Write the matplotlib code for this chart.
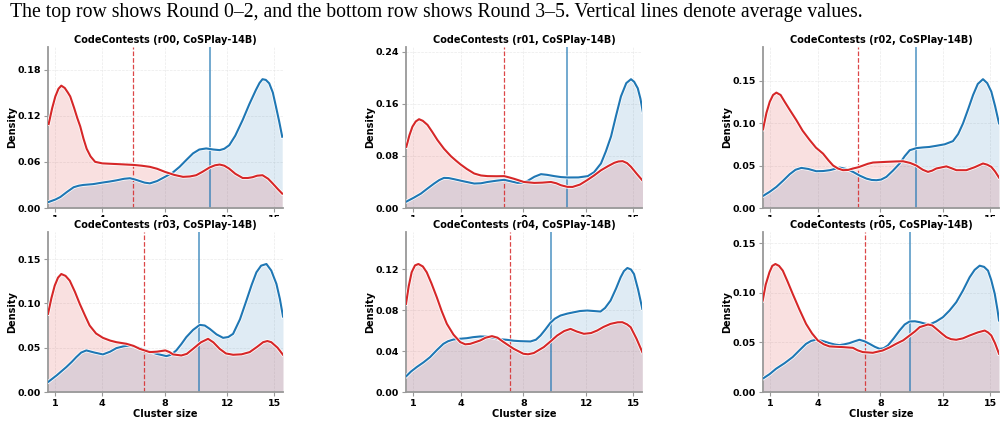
import matplotlib
matplotlib.use("Agg")
import matplotlib.pyplot as plt
import matplotlib.patheffects as pe
from matplotlib.transforms import Bbox, TransformedBbox

# Curve values (cluster size -> density)
r00_red_x = [0.57, 0.8, 1.0, 1.2, 1.38, 1.6, 1.8, 1.95, 2.2, 2.4, 2.59, 2.8, 3.0, 3.25, 3.54, 4.0, 5.0, 5.98, 6.5, 7.04, 7.5, 8.0, 8.6, 9.16, 9.6, 10.0, 10.4, 10.85, 11.2, 11.5, 11.8, 12.1, 12.5, 12.97, 13.3, 13.6, 13.9, 14.24, 14.6, 14.9, 15.2, 15.5]
r00_red_y = [0.109, 0.130, 0.145, 0.155, 0.159, 0.156, 0.150, 0.145, 0.130, 0.117, 0.106, 0.090, 0.077, 0.067, 0.060, 0.058, 0.057, 0.056, 0.055, 0.0535, 0.051, 0.047, 0.043, 0.0405, 0.041, 0.0426, 0.047, 0.0526, 0.0555, 0.0565, 0.055, 0.0513, 0.0445, 0.039, 0.039, 0.040, 0.042, 0.0426, 0.038, 0.0317, 0.025, 0.0187]
r00_blue_x = [0.57, 1.0, 1.32, 1.75, 2.17, 2.5, 2.8, 3.4, 4.0, 4.5, 4.92, 5.4, 5.77, 6.1, 6.4, 6.7, 7.04, 7.5, 8.0, 8.5, 8.94, 9.4, 9.8, 10.2, 10.64, 11.1, 11.5, 11.8, 12.12, 12.5, 12.97, 13.4, 13.82, 14.05, 14.24, 14.45, 14.67, 14.9, 15.1, 15.3, 15.5]
r00_blue_y = [0.0078, 0.011, 0.0143, 0.021, 0.027, 0.029, 0.030, 0.031, 0.033, 0.0345, 0.036, 0.038, 0.0387, 0.037, 0.035, 0.033, 0.032, 0.035, 0.0404, 0.046, 0.0535, 0.063, 0.071, 0.076, 0.0774, 0.076, 0.0752, 0.077, 0.0817, 0.094, 0.1143, 0.135, 0.1535, 0.1625, 0.1674, 0.1665, 0.162, 0.150, 0.1317, 0.113, 0.0926]

r01_red_x = [0.55, 0.75, 0.94, 1.15, 1.36, 1.6, 1.9, 2.2, 2.53, 2.95, 3.38, 3.7, 4.0, 4.4, 4.87, 5.3, 5.72, 6.3, 6.78, 7.1, 7.42, 8.03, 8.69, 9.2, 9.75, 10.1, 10.39, 10.8, 11.13, 11.6, 12.05, 12.5, 12.94, 13.4, 13.79, 14.05, 14.32, 14.6, 14.85, 15.2, 15.6]
r01_red_y = [0.094, 0.112, 0.125, 0.133, 0.1365, 0.134, 0.1277, 0.117, 0.1045, 0.091, 0.0798, 0.073, 0.067, 0.060, 0.053, 0.050, 0.049, 0.0488, 0.049, 0.047, 0.0448, 0.040, 0.0386, 0.039, 0.040, 0.038, 0.035, 0.0325, 0.0324, 0.036, 0.0427, 0.050, 0.058, 0.0645, 0.0695, 0.0715, 0.072, 0.069, 0.0633, 0.053, 0.0417]
r01_blue_x = [0.55, 1.0, 1.47, 1.9, 2.32, 2.65, 2.95, 3.25, 3.59, 4.2, 4.87, 5.3, 5.72, 6.3, 6.78, 7.2, 7.63, 7.95, 8.27, 8.7, 9.12, 9.5, 9.97, 10.4, 10.82, 11.5, 12.1, 12.5, 12.94, 13.25, 13.58, 13.9, 14.21, 14.55, 14.85, 15.05, 15.28, 15.45, 15.6]
r01_blue_y = [0.0098, 0.0155, 0.022, 0.030, 0.0376, 0.043, 0.0463, 0.046, 0.0443, 0.041, 0.0376, 0.038, 0.040, 0.042, 0.0433, 0.041, 0.0386, 0.039, 0.0417, 0.048, 0.052, 0.051, 0.049, 0.0475, 0.0469, 0.047, 0.049, 0.055, 0.0685, 0.087, 0.110, 0.142, 0.1715, 0.192, 0.198, 0.194, 0.184, 0.168, 0.148]

r02_red_x = [0.53, 0.75, 0.96, 1.17, 1.38, 1.65, 1.91, 2.25, 2.65, 3.05, 3.5, 3.9, 4.35, 4.7, 4.99, 5.3, 5.62, 5.95, 6.26, 6.6, 6.9, 7.2, 7.53, 8.38, 9.0, 9.44, 9.9, 10.29, 10.7, 11.03, 11.3, 11.56, 12.2, 12.5, 12.84, 13.47, 14.0, 14.53, 14.8, 15.06, 15.3, 15.55]
r02_red_y = [0.0925, 0.112, 0.125, 0.133, 0.1358, 0.133, 0.125, 0.115, 0.1035, 0.091, 0.080, 0.071, 0.064, 0.056, 0.050, 0.0465, 0.0445, 0.0448, 0.0465, 0.048, 0.050, 0.052, 0.0535, 0.0543, 0.0548, 0.055, 0.053, 0.050, 0.045, 0.0425, 0.044, 0.0465, 0.049, 0.047, 0.0445, 0.0445, 0.048, 0.0524, 0.051, 0.0484, 0.043, 0.0358]
r02_blue_x = [0.53, 0.95, 1.38, 1.8, 2.23, 2.6, 2.97, 3.4, 3.92, 4.35, 4.78, 5.1, 5.41, 5.8, 6.26, 6.7, 7.11, 7.45, 7.75, 8.05, 8.38, 8.8, 9.23, 9.55, 9.87, 10.3, 10.72, 11.1, 11.56, 12.1, 12.62, 12.95, 13.26, 13.6, 13.9, 14.2, 14.53, 14.8, 15.06, 15.3, 15.55]
r02_blue_y = [0.0142, 0.019, 0.0248, 0.032, 0.0398, 0.045, 0.0472, 0.046, 0.0433, 0.0435, 0.0445, 0.046, 0.0476, 0.046, 0.0425, 0.038, 0.0346, 0.033, 0.0327, 0.0335, 0.0366, 0.044, 0.0524, 0.061, 0.068, 0.0705, 0.0713, 0.0718, 0.0732, 0.075, 0.0787, 0.087, 0.0996, 0.117, 0.133, 0.146, 0.1516, 0.147, 0.137, 0.120, 0.0996]

r03_red_x = [0.53, 0.75, 0.96, 1.17, 1.38, 1.65, 1.92, 2.25, 2.56, 2.9, 3.19, 3.6, 4.04, 4.5, 4.9, 5.54, 6.0, 6.39, 7.03, 7.5, 8.03, 8.3, 8.52, 9.05, 9.4, 9.8, 10.3, 10.76, 11.1, 11.5, 11.9, 12.36, 12.9, 13.42, 13.9, 14.28, 14.55, 14.8, 15.2, 15.55]
r03_red_y = [0.0881, 0.106, 0.120, 0.129, 0.1331, 0.131, 0.1256, 0.113, 0.0994, 0.086, 0.075, 0.066, 0.0611, 0.058, 0.0562, 0.0544, 0.052, 0.0487, 0.045, 0.0455, 0.0469, 0.045, 0.0424, 0.0412, 0.043, 0.0487, 0.056, 0.060, 0.056, 0.0487, 0.0435, 0.042, 0.0425, 0.045, 0.051, 0.0562, 0.0575, 0.0562, 0.050, 0.042]
r03_blue_x = [0.53, 1.1, 1.7, 2.05, 2.34, 2.65, 2.98, 3.5, 4.04, 4.5, 4.9, 5.35, 5.75, 6.3, 6.81, 7.45, 8.1, 8.4, 8.73, 9.05, 9.37, 9.8, 10.23, 10.55, 10.87, 11.3, 11.72, 12.05, 12.36, 12.8, 13.21, 13.55, 13.85, 14.15, 14.49, 14.8, 15.13, 15.35, 15.55]
r03_blue_y = [0.0112, 0.019, 0.0281, 0.034, 0.0394, 0.0445, 0.0469, 0.0445, 0.0424, 0.0455, 0.0495, 0.0515, 0.0525, 0.050, 0.0469, 0.0431, 0.0405, 0.042, 0.0469, 0.054, 0.0619, 0.070, 0.0757, 0.075, 0.0712, 0.065, 0.0611, 0.062, 0.0656, 0.082, 0.1031, 0.121, 0.135, 0.1425, 0.1444, 0.137, 0.1219, 0.105, 0.0851]

r04_red_x = [0.53, 0.7, 0.89, 1.1, 1.32, 1.6, 1.85, 2.15, 2.49, 2.8, 3.13, 3.55, 3.98, 4.3, 4.62, 5.26, 5.6, 6.0, 6.35, 6.74, 7.38, 8.0, 8.3, 8.66, 9.3, 9.7, 10.15, 10.6, 11.0, 11.4, 11.85, 12.3, 12.7, 13.1, 13.55, 14.0, 14.3, 14.6, 14.83, 15.2, 15.57]
r04_red_y = [0.086, 0.103, 0.1168, 0.1235, 0.1249, 0.1225, 0.1168, 0.106, 0.0924, 0.079, 0.0665, 0.056, 0.0487, 0.0465, 0.047, 0.0503, 0.053, 0.0545, 0.053, 0.0487, 0.0422, 0.0373, 0.0368, 0.038, 0.0438, 0.049, 0.0551, 0.0595, 0.0616, 0.059, 0.0568, 0.0575, 0.060, 0.0635, 0.0665, 0.068, 0.0681, 0.066, 0.0632, 0.052, 0.0389]
r04_blue_x = [0.53, 0.85, 1.21, 1.65, 2.06, 2.5, 2.91, 3.2, 3.55, 4.0, 4.4, 4.8, 5.26, 5.7, 6.11, 6.5, 6.96, 7.4, 7.81, 8.45, 8.8, 9.09, 9.4, 9.72, 10.0, 10.36, 10.8, 11.21, 11.6, 12.06, 12.5, 12.91, 13.2, 13.55, 13.9, 14.19, 14.4, 14.62, 14.85, 15.04, 15.3, 15.57]
r04_blue_y = [0.0152, 0.020, 0.0243, 0.029, 0.034, 0.041, 0.047, 0.0495, 0.0512, 0.052, 0.0525, 0.0535, 0.0542, 0.054, 0.0529, 0.0515, 0.0509, 0.050, 0.0496, 0.0493, 0.051, 0.0551, 0.061, 0.0675, 0.0715, 0.0746, 0.0765, 0.0778, 0.079, 0.0795, 0.079, 0.0785, 0.082, 0.0892, 0.101, 0.1119, 0.118, 0.121, 0.1195, 0.1151, 0.100, 0.0811]

r05_red_x = [0.51, 0.7, 0.94, 1.12, 1.32, 1.55, 1.79, 2.1, 2.42, 2.85, 3.27, 3.65, 4.02, 4.4, 4.76, 5.61, 6.25, 6.55, 6.88, 7.52, 8.15, 8.6, 9.0, 9.45, 9.86, 10.2, 10.5, 11.03, 11.3, 11.56, 11.9, 12.2, 12.5, 12.83, 13.25, 13.68, 14.2, 14.64, 14.85, 15.06, 15.3, 15.55]
r05_red_y = [0.092, 0.108, 0.1205, 0.127, 0.1289, 0.127, 0.1222, 0.111, 0.0988, 0.083, 0.0686, 0.059, 0.0519, 0.048, 0.0459, 0.0452, 0.0445, 0.042, 0.0402, 0.0395, 0.0418, 0.045, 0.0485, 0.052, 0.0569, 0.061, 0.0653, 0.068, 0.067, 0.0636, 0.059, 0.0552, 0.0532, 0.0526, 0.054, 0.0569, 0.060, 0.0619, 0.060, 0.0569, 0.049, 0.0385]
r05_blue_x = [0.51, 0.95, 1.36, 1.9, 2.42, 2.85, 3.27, 3.6, 3.91, 4.3, 4.76, 5.1, 5.4, 5.7, 6.03, 6.35, 6.67, 7.0, 7.31, 7.65, 7.95, 8.2, 8.48, 8.85, 9.22, 9.55, 9.86, 10.2, 10.5, 10.8, 11.13, 11.55, 11.98, 12.4, 12.83, 13.25, 13.68, 14.0, 14.32, 14.6, 14.85, 15.05, 15.28, 15.45, 15.55]
r05_blue_y = [0.0134, 0.018, 0.0234, 0.029, 0.0352, 0.042, 0.0485, 0.0515, 0.0526, 0.0515, 0.0492, 0.0478, 0.0472, 0.048, 0.0492, 0.051, 0.0526, 0.051, 0.0485, 0.0455, 0.0435, 0.044, 0.0469, 0.054, 0.0619, 0.068, 0.071, 0.0712, 0.0703, 0.069, 0.068, 0.071, 0.0753, 0.082, 0.0904, 0.102, 0.1155, 0.123, 0.1272, 0.126, 0.1222, 0.113, 0.0988, 0.083, 0.072]

# averages (vertical lines)
red_means = [5.98, 6.78, 6.6, 6.67, 7.17, 7.05]
blue_means = [10.9, 10.77, 10.25, 10.18, 9.79, 9.9]

rounds = ["r00", "r01", "r02", "r03", "r04", "r05"]
y_ticks = [
    [0.0, 0.06, 0.12, 0.18],
    [0.0, 0.08, 0.16, 0.24],
    [0.0, 0.05, 0.10, 0.15],
    [0.0, 0.05, 0.10, 0.15],
    [0.0, 0.04, 0.08, 0.12],
    [0.0, 0.05, 0.10, 0.15],
]
x_ticks = [1, 4, 8, 12, 15]

red_curves = [(r00_red_x, r00_red_y), (r01_red_x, r01_red_y), (r02_red_x, r02_red_y),
              (r03_red_x, r03_red_y), (r04_red_x, r04_red_y), (r05_red_x, r05_red_y)]
blue_curves = [(r00_blue_x, r00_blue_y), (r01_blue_x, r01_blue_y), (r02_blue_x, r02_blue_y),
               (r03_blue_x, r03_blue_y), (r04_blue_x, r04_blue_y), (r05_blue_x, r05_blue_y)]

RED = "#d62728"
BLUE = "#1f77b4"
W, H = 1006, 423

fig = plt.figure(figsize=(W / 100, H / 100), dpi=100)

fig.text(10 / W, 1 - 12 / H,
         "The top row shows Round 0\u20132, and the bottom row shows Round 3\u20135. Vertical lines denote average values.",
         family="Liberation Serif", fontsize=14.2, va="center", ha="left")

# axes boxes in pixels: left, right, top, bottom
cols = [(48, 283), (406, 642), (763, 999)]
rows = [(47, 208), (232, 392)]

halo = [pe.Stroke(linewidth=2.6, foreground="white"), pe.Normal()]
clip_top = TransformedBbox(Bbox.from_extents(0, 1 - 217 / H, 1, 1), fig.transFigure)

for i in range(6):
    r, c = divmod(i, 3)
    l, rgt = cols[c]
    t, b = rows[r]
    ax = fig.add_axes([l / W, 1 - b / H, (rgt - l) / W, (b - t) / H])

    bx, by = blue_curves[i]
    rx, ry = red_curves[i]
    ax.fill_between(bx, by, color=BLUE, alpha=0.14, linewidth=0)
    ax.fill_between(rx, ry, color=RED, alpha=0.14, linewidth=0)
    ax.plot(bx, by, color=BLUE, lw=1.5, path_effects=halo, zorder=3)
    ax.plot(rx, ry, color=RED, lw=1.5, path_effects=halo, zorder=3)

    ax.axvline(red_means[i], color=RED, ls="--", lw=0.9, alpha=0.85, zorder=2)
    ax.axvline(blue_means[i], color=BLUE, ls="-", lw=1.1, alpha=0.8, zorder=2)

    ymax = max(max(by), max(ry)) * 1.25
    ax.set_xlim(0.53, 15.55)
    ax.set_ylim(0, ymax)
    ax.set_xticks(x_ticks)
    ax.set_yticks(y_ticks[i])
    ax.set_xticklabels([str(v) for v in x_ticks])
    ax.set_yticklabels(["%.2f" % v for v in y_ticks[i]])

    ax.grid(True, color="#dddddd", ls="--", lw=0.5, alpha=0.6)
    ax.set_axisbelow(True)
    for s in ["top", "right"]:
        ax.spines[s].set_visible(False)
    for s in ["left", "bottom"]:
        ax.spines[s].set_color("#999999")
        ax.spines[s].set_linewidth(1.3)
    ax.tick_params(colors="#999999", labelcolor="black", length=3, width=0.8, pad=2, labelsize=6.8)
    for lab in ax.get_xticklabels() + ax.get_yticklabels():
        lab.set_fontweight("bold")

    ax.set_title("CodeContests (%s, CoSPlay-14B)" % rounds[i], fontsize=7, fontweight="bold", pad=3)
    ax.set_ylabel("Density", fontsize=7, fontweight="bold", labelpad=0.5)
    if r == 1:
        ax.set_xlabel("Cluster size", fontsize=7, fontweight="bold", labelpad=1)
    else:
        for tk in ax.xaxis.get_major_ticks():
            tk.label1.set_clip_box(clip_top)
            tk.label1.set_clip_on(True)

fig.savefig("out.png", dpi=100)
